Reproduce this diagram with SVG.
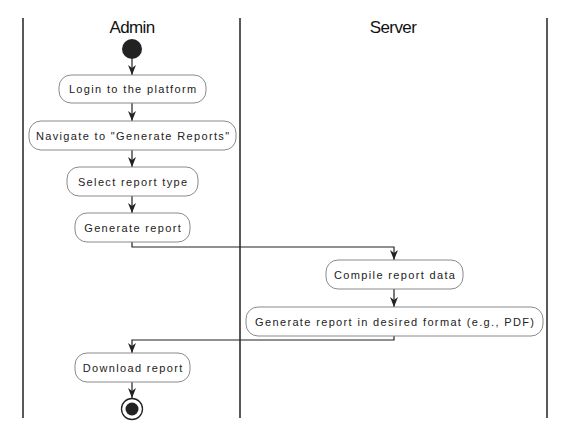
<svg xmlns="http://www.w3.org/2000/svg" width="576" height="439" viewBox="0 0 576 439">
<style>
.lane{stroke:#222;stroke-width:1.5}
.title{font-family:"Liberation Sans",Arial,sans-serif;font-size:17px;fill:#111;text-anchor:middle;letter-spacing:-0.6px}
.box{fill:#fff;stroke:#8a8a8a;stroke-width:1}
.lbl{font-family:"Liberation Sans",Arial,sans-serif;font-size:11px;fill:#222;text-anchor:middle;letter-spacing:1.35px}
.edge{fill:none;stroke:#222;stroke-width:1.2}
</style>
<defs>
<marker id="ah" viewBox="0 0 10 10" refX="10" refY="5" markerWidth="10" markerHeight="10" markerUnits="userSpaceOnUse" orient="auto">
<path d="M0,1 L10,5 L0,9 L3,5 Z" fill="#222"/>
</marker>
</defs>
<rect width="576" height="439" fill="#fff"/>
<g id="lanes">
<line class="lane" x1="23" y1="18" x2="23" y2="418"/>
<line class="lane" x1="240" y1="18" x2="240" y2="418"/>
<line class="lane" x1="547" y1="18" x2="547" y2="418"/>
<text class="title" x="132" y="33">Admin</text>
<text class="title" x="393" y="33">Server</text>
</g>
<g id="connectors">
<path class="edge" d="M132,59 V75" marker-end="url(#ah)"/>
<path class="edge" d="M132,103 V121" marker-end="url(#ah)"/>
<path class="edge" d="M132,150 V167" marker-end="url(#ah)"/>
<path class="edge" d="M132,196 V213" marker-end="url(#ah)"/>
<path class="edge" d="M132,242 V247 H394 V260" marker-end="url(#ah)"/>
<path class="edge" d="M394,289 V307" marker-end="url(#ah)"/>
<path class="edge" d="M394,336 V340 H132 V353" marker-end="url(#ah)"/>
<path class="edge" d="M132,382 V398" marker-end="url(#ah)"/>
</g>
<g id="start"><circle cx="132" cy="49" r="10" fill="#222"/></g>
<g id="login"><rect class="box" x="59" y="75" width="147" height="28" rx="12"/><text class="lbl" x="133.2" y="93">Login to the platform</text></g>
<g id="navigate"><rect class="box" x="29" y="121" width="207" height="29" rx="12"/><text class="lbl" x="133.2" y="139.5">Navigate to "Generate Reports"</text></g>
<g id="select"><rect class="box" x="67" y="167" width="131" height="29" rx="12"/><text class="lbl" x="133.2" y="185.5">Select report type</text></g>
<g id="generate"><rect class="box" x="75" y="213" width="115" height="29" rx="12"/><text class="lbl" x="133.2" y="231.5">Generate report</text></g>
<g id="compile"><rect class="box" x="326" y="260" width="137" height="29" rx="12"/><text class="lbl" x="395.2" y="278.5">Compile report data</text></g>
<g id="format"><rect class="box" x="246" y="307" width="297" height="29" rx="12"/><text class="lbl" x="395.2" y="325.5">Generate report in desired format (e.g., PDF)</text></g>
<g id="download"><rect class="box" x="75" y="353" width="115" height="29" rx="12"/><text class="lbl" x="133.2" y="371.5">Download report</text></g>
<g id="end"><circle cx="132" cy="409" r="10.5" fill="#fff" stroke="#222" stroke-width="1.3"/><circle cx="132" cy="409" r="6.5" fill="#222"/></g>
</svg>
